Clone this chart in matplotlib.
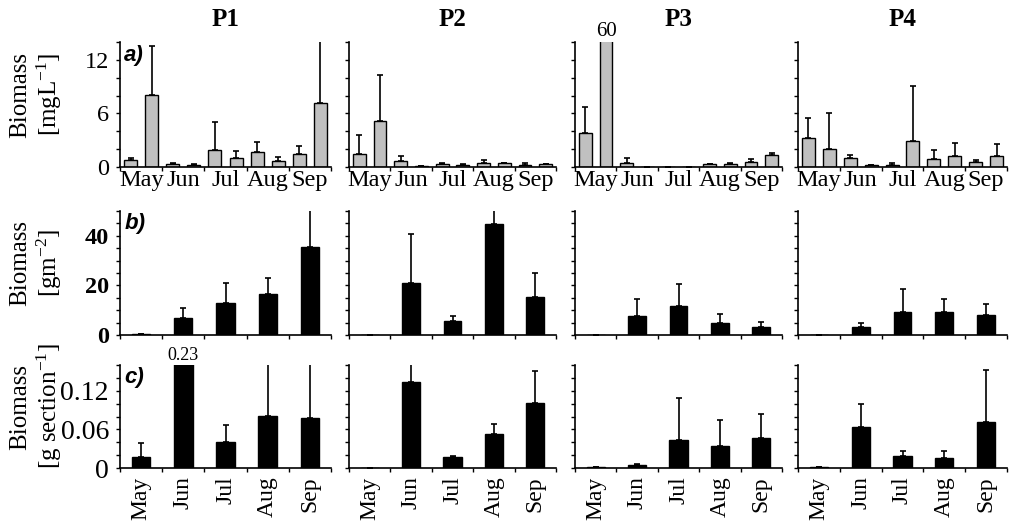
"""Seasonal biomass at four sites (P1-P4), three compartments a) b) c)."""

import matplotlib
matplotlib.use("Agg")
import matplotlib.pyplot as plt
import numpy as np

plt.rcParams["font.family"] = ["Liberation Serif", "DejaVu Serif"]
plt.rcParams["mathtext.fontset"] = "custom"
plt.rcParams["mathtext.rm"] = "Liberation Serif"
plt.rcParams["mathtext.it"] = "Liberation Serif:italic"
plt.rcParams["mathtext.bf"] = "Liberation Serif:bold"

SITES = ["P1", "P2", "P3", "P4"]
MONTHS = ["May", "Jun", "Jul", "Aug", "Sep"]

# a) two samples per month, mg L-1 (mean, upper SD)
WATER_MEAN = [
    [0.8, 8.1, 0.35, 0.2, 1.9, 1.05, 1.7, 0.7, 1.5, 7.2],
    [1.45, 5.2, 0.68, 0.08, 0.35, 0.27, 0.42, 0.42, 0.27, 0.3],
    [3.8, 60, 0.5, 0.03, 0.05, 0.03, 0.38, 0.38, 0.57, 1.4],
    [3.2, 2.0, 1.0, 0.18, 0.26, 2.9, 0.93, 1.26, 0.52, 1.26],
]
WATER_ERR = [
    [0.2, 5.4, 0.15, 0.1, 3.1, 0.75, 1.05, 0.45, 0.9, 7.5],
    [2.15, 5.1, 0.57, 0.0, 0.15, 0.11, 0.33, 0.08, 0.15, 0.05],
    [2.9, 0.0, 0.55, 0.0, 0.0, 0.0, 0.0, 0.12, 0.38, 0.2],
    [2.3, 4.1, 0.4, 0.0, 0.19, 6.2, 0.97, 1.44, 0.22, 1.29],
]

# b) g m-2
AREA_MEAN = [
    [0.3, 6.7, 13.0, 16.5, 35.5],
    [0.1, 21.0, 5.7, 44.9, 15.5],
    [0.1, 7.7, 11.6, 5.0, 3.1],
    [0.1, 3.4, 9.1, 9.4, 7.9],
]
AREA_ERR = [
    [0.0, 4.0, 7.8, 6.3, 16.0],
    [0.0, 19.8, 2.0, 7.0, 9.4],
    [0.0, 7.0, 8.9, 3.4, 2.2],
    [0.0, 1.4, 9.3, 5.2, 4.4],
]

# c) g section-1
SECTION_MEAN = [
    [0.017, 0.23, 0.040, 0.081, 0.077],
    [0.0, 0.133, 0.0166, 0.053, 0.101],
    [0.001, 0.004, 0.043, 0.034, 0.047],
    [0.001, 0.063, 0.019, 0.015, 0.071],
]
SECTION_ERR = [
    [0.022, 0.0, 0.027, 0.09, 0.09],
    [0.0, 0.05, 0.0024, 0.015, 0.049],
    [0.0, 0.002, 0.066, 0.040, 0.037],
    [0.0, 0.036, 0.008, 0.012, 0.081],
]

ROWS = [
    dict(mean=WATER_MEAN, err=WATER_ERR, ymax=14, major=[0, 6, 12], step=2,
         color="#c0c0c0", letter="a)", ylabel="Biomass\n[mgL$^{-1}$]",
         tickfont=dict(size=17.5), width=0.62),
    dict(mean=AREA_MEAN, err=AREA_ERR, ymax=50, major=[0, 20, 40], step=5,
         color="black", letter="b)", ylabel="Biomass\n[gm$^{-2}$]",
         tickfont=dict(size=17.5, weight="bold"), width=0.43),
    dict(mean=SECTION_MEAN, err=SECTION_ERR, ymax=0.16, major=[0, 0.06, 0.12],
         step=0.02, color="black", letter="c)",
         ylabel="Biomass\n[g section$^{-1}$]", tickfont=dict(size=20),
         width=0.44),
]

# panel frame in pixels of the 1021x522 figure
W, H = 1021, 522
COL_X = [(120, 331), (349, 556), (575, 782), (798, 1007)]
ROW_Y = [(42, 167), (211, 335), (365, 468)]

fig = plt.figure(figsize=(W / 100, H / 100), dpi=100)

for r, row in enumerate(ROWS):
    top, bot = ROW_Y[r]
    for c, site in enumerate(SITES):
        x0, x1 = COL_X[c]
        ax = fig.add_axes([x0 / W, 1 - bot / H, (x1 - x0) / W, (bot - top) / H])
        mean = np.array(row["mean"][c])
        err = np.array(row["err"][c])
        x = np.arange(len(mean))
        ax.bar(x, mean, width=row["width"], color=row["color"],
               edgecolor="black", linewidth=1.0, zorder=2)
        ax.errorbar(x, mean, yerr=[np.zeros_like(err), err], fmt="none",
                    ecolor="black", elinewidth=1.2, capsize=2, capthick=1.2,
                    zorder=3)
        ymax = row["ymax"]
        for xi, v in zip(x, mean):
            if v > ymax:
                ax.text(xi, ymax * 1.005, f"{v:g}", ha="center", va="bottom",
                        fontsize=15 if r == 0 else 13)

        n_per = len(mean) // len(MONTHS)
        ax.set_xlim(-0.5, len(mean) - 0.5)
        ax.set_ylim(0, ymax)
        bounds = np.arange(-0.5, len(mean), n_per)
        centers = bounds[:-1] + n_per / 2
        ax.set_xticks(bounds)
        ax.set_xticklabels([])
        ax.set_xticks(centers, minor=True)
        if r == 0:
            ax.set_xticklabels(MONTHS, minor=True, fontsize=17.5)
            ax.tick_params(axis="x", which="minor", length=0, pad=2)
        elif r == 2:
            ax.set_xticklabels(MONTHS, minor=True, fontsize=17, rotation=90)
            ax.tick_params(axis="x", which="minor", length=0, pad=6)
        else:
            ax.tick_params(axis="x", which="minor", length=0)
        ax.tick_params(axis="x", which="major", length=3, width=1.0,
                       direction="out")

        ax.set_yticks(np.arange(0, ymax + row["step"] / 2, row["step"]), minor=True)
        ax.set_yticks(row["major"])
        if c == 0:
            ax.set_yticklabels([f"{v:g}" for v in row["major"]], **row["tickfont"])
        else:
            ax.set_yticklabels([])
        ax.tick_params(axis="y", which="both", length=3, width=1.0,
                       direction="out", pad=5)

        for s in ("top", "right"):
            ax.spines[s].set_visible(False)
        for s in ("left", "bottom"):
            ax.spines[s].set_linewidth(1.2)

        if c == 0:
            ax.text(0.02, 0.98, row["letter"], transform=ax.transAxes,
                    ha="left", va="top", fontsize=16, fontweight="bold",
                    fontstyle="italic", family="Liberation Sans")
        if r == 0:
            fig.text((x0 + x1) / 2 / W, 1 - 19 / H, site, ha="center",
                     va="center", fontsize=18, fontweight="bold")

    fig.text(37 / W, 1 - ((top + bot) / 2 - 10) / H, row["ylabel"],
             rotation=90, ha="center", va="center", multialignment="center",
             fontsize=18, linespacing=1.15)

fig.savefig("out.png", dpi=100)
